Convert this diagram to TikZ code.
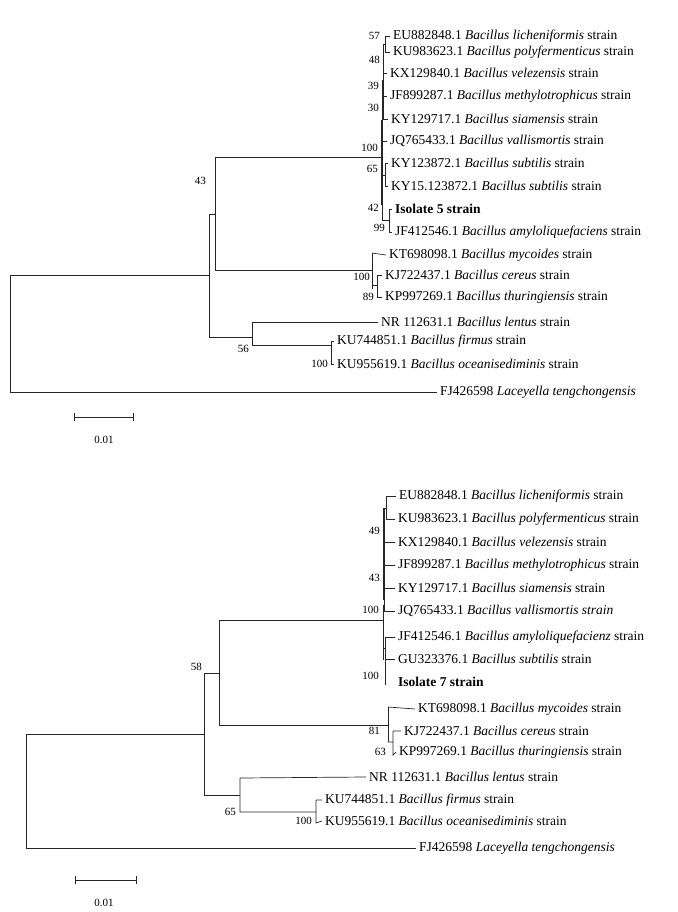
\documentclass[tikz,border=0pt]{standalone}
\usepackage{fontspec}
\setmainfont{Liberation Serif}
\begin{document}
\begin{tikzpicture}[x=1pt,y=-1pt,
  br/.style={line width=0.7pt,black!85},
  thk/.style={line width=1.6pt},
  leaf/.style={anchor=west,inner sep=0pt,font=\fontsize{13.5}{14}\selectfont},
  bs/.style={anchor=east,inner sep=1pt,font=\fontsize{11}{12}\selectfont}]
\useasboundingbox (0,0) rectangle (677,912);
% ---------------- TOP TREE ----------------
\node[leaf] (t1) at (390,36) {\hspace{3pt}EU882848.1 \textit{Bacillus licheniformis} strain};
\node[leaf] (t2) at (390,52) {\hspace{3pt}KU983623.1 \textit{Bacillus polyfermenticus} strain};
\node[leaf] (t3) at (387,73) {\hspace{3pt}KX129840.1 \textit{Bacillus velezensis} strain};
\node[leaf] (t4) at (387,96) {\hspace{3pt}JF899287.1 \textit{Bacillus methylotrophicus} strain};
\node[leaf] (t5) at (388,119) {\hspace{3pt}KY129717.1 \textit{Bacillus siamensis} strain};
\node[leaf] (t6) at (387,141) {\hspace{3pt}JQ765433.1 \textit{Bacillus vallismortis} strain};
\node[leaf] (t7) at (388,163) {\hspace{3pt}KY123872.1 \textit{Bacillus subtilis} strain};
\node[leaf] (t8) at (388,186) {\hspace{3pt}KY15.123872.1 \textit{Bacillus subtilis} strain};
\node[leaf] (t9) at (392,209) {\hspace{3pt}\textbf{Isolate 5 strain}};
\node[leaf] (t10) at (392,232) {\hspace{3pt}JF412546.1 \textit{Bacillus amyloliquefaciens} strain};
\node[leaf] (t11) at (386,255) {\hspace{3pt}KT698098.1 \textit{Bacillus mycoides} strain};
\node[leaf] (t12) at (382,275) {\hspace{3pt}KJ722437.1 \textit{Bacillus cereus} strain};
\node[leaf] (t13) at (382,297) {\hspace{3pt}KP997269.1 \textit{Bacillus thuringiensis} strain};
\node[leaf] (t14) at (378,322) {\hspace{3pt}NR 112631.1 \textit{Bacillus lentus} strain};
\node[leaf] (t15) at (334,341) {\hspace{3pt}KU744851.1 \textit{Bacillus firmus} strain};
\node[leaf] (t16) at (334,364) {\hspace{3pt}KU955619.1 \textit{Bacillus oceanisediminis} strain};
\node[leaf] (t17) at (437,392) {\hspace{3pt}FJ426598 \textit{Laceyella tengchongensis}};
\begin{scope}[br]
\draw (385,36)--(t1.west) (385,36)--(385,52)--(t2.west);
\draw[thk] (383.5,44)--(383.5,120);
\draw (383.5,44)--(385,44);
\draw (383.5,73)--(t3.west) (383.5,96)--(t4.west);
\draw (382,80)--(382,119)--(t5.west);
\draw[thk] (382,120)--(382,205);
\draw (382,141)--(t6.west);
\draw (385,163)--(t7.west) (385,163)--(385,186)--(t8.west) (382,175)--(385,175);
\draw (382,205)--(382,220)--(389,220);
\draw (389,209)--(t9.west) (389,209)--(389,232)--(t10.west);
\draw (215,157)--(382,157);
\draw (215,157)--(215,270)--(372,270);
\draw (372,253)--(372,289);
\draw (372,253)--(t11.west);
\draw (372,285)--(377,285) (377,275)--(t12.west) (377,275)--(377,297)--(t13.west);
\draw (209,214)--(215,214);
\draw (209,214)--(209,337)--(252,337);
\draw (252,322)--(t14.west) (252,322)--(252,345)--(331,345);
\draw (331,341)--(t15.west) (331,341)--(331,364)--(t16.west);
\draw (10,275)--(209,275);
\draw (10,275)--(10,392)--(t17.west);
\end{scope}
\node[bs] at (381,36) {57};
\node[bs] at (381,60) {48};
\node[bs] at (380,86) {39};
\node[bs] at (380,108) {30};
\node[bs] at (379,148) {100};
\node[bs] at (379,169) {65};
\node[bs] at (380,208) {42};
\node[bs] at (386,228) {99};
\node[bs] at (371,277) {100};
\node[bs] at (375,297) {89};
\node[bs] at (250,349) {56};
\node[bs] at (329,364) {100};
\node[bs] at (207,181) {43};
\draw[br] (74,417)--(133,417) (74,413)--(74,421) (133,413)--(133,421);
\node[font=\fontsize{11}{12}\selectfont] (s1) at (104,440) {0.01};
% ---------------- BOTTOM TREE ----------------
\node[leaf] (b1) at (396,496) {\hspace{3pt}EU882848.1 \textit{Bacillus licheniformis} strain};
\node[leaf] (b2) at (395,519) {\hspace{3pt}KU983623.1 \textit{Bacillus polyfermenticus} strain};
\node[leaf] (b3) at (395,542) {\hspace{3pt}KX129840.1 \textit{Bacillus velezensis} strain};
\node[leaf] (b4) at (395,565) {\hspace{3pt}JF899287.1 \textit{Bacillus methylotrophicus} strain};
\node[leaf] (b5) at (395,588) {\hspace{3pt}KY129717.1 \textit{Bacillus siamensis} strain};
\node[leaf] (b6) at (395,611) {\hspace{3pt}JQ765433.1 \textit{Bacillus vallismortis strain}};
\node[leaf] (b7) at (395,637) {\hspace{3pt}JF412546.1 \textit{Bacillus amyloliquefacienz} strain};
\node[leaf] (b8) at (395,659) {\hspace{3pt}GU323376.1 \textit{Bacillus subtilis} strain};
\node[leaf] (b9) at (395,682) {\hspace{3pt}\textbf{Isolate 7 strain}};
\node[leaf] (b10) at (415,709) {\hspace{3pt}KT698098.1 \textit{Bacillus mycoides} strain};
\node[leaf] (b11) at (401,731) {\hspace{3pt}KJ722437.1 \textit{Bacillus cereus} strain};
\node[leaf] (b12) at (396,752) {\hspace{3pt}KP997269.1 \textit{Bacillus thuringiensis} strain};
\node[leaf] (b13) at (366,777) {\hspace{3pt}NR 112631.1 \textit{Bacillus lentus} strain};
\node[leaf] (b14) at (322,800) {\hspace{3pt}KU744851.1 \textit{Bacillus firmus} strain};
\node[leaf] (b15) at (322,821) {\hspace{3pt}KU955619.1 \textit{Bacillus oceanisediminis} strain};
\node[leaf] (b16) at (416,848) {\hspace{3pt}FJ426598 \textit{Laceyella tengchongensis}};
\begin{scope}[br]
\draw (386,496)--(b1.west) (386,496)--(386,519)--(b2.west);
\draw (384,508)--(386,508);
\draw[thk] (384,508)--(384,600);
\draw (384,542)--(b3.west) (384,565)--(b4.west) (384,588)--(b5.west);
\draw (384,600)--(384,611)--(b6.west);
\draw (383,605)--(383,660);
\draw (385,637)--(b7.west) (385,637)--(385,685);
\draw (385,659)--(b8.west);
\draw (383,648)--(385,648);
\draw (219,620)--(383,620);
\draw (219,620)--(219,725)--(388,725);
\draw (388,707)--(388,742);
\draw (388,707)--(b10.west);
\draw (388,742)--(393,742) (393,731)--(b11.west) (393,731)--(393,755)--(b12.west);
\draw (204,673)--(219,673);
\draw (204,673)--(204,795)--(240,795);
\draw (240,778)--(b13.west) (240,778)--(240,812)--(316,812);
\draw (316,800)--(b14.west) (316,800)--(316,823)--(b15.west);
\draw (26,734)--(204,734);
\draw (26,734)--(26,848)--(b16.west);
\end{scope}
\node[bs] at (381,531) {49};
\node[bs] at (381,578) {43};
\node[bs] at (380,610) {100};
\node[bs] at (380,676) {100};
\node[bs] at (381,731) {81};
\node[bs] at (387,752) {63};
\node[bs] at (237,812) {65};
\node[bs] at (313,821) {100};
\node[bs] at (203,667) {58};
\draw[br] (75,880)--(136,880) (75,876)--(75,884) (136,876)--(136,884);
\node[font=\fontsize{11}{12}\selectfont] (s2) at (104,903) {0.01};
\end{tikzpicture}
\end{document}
